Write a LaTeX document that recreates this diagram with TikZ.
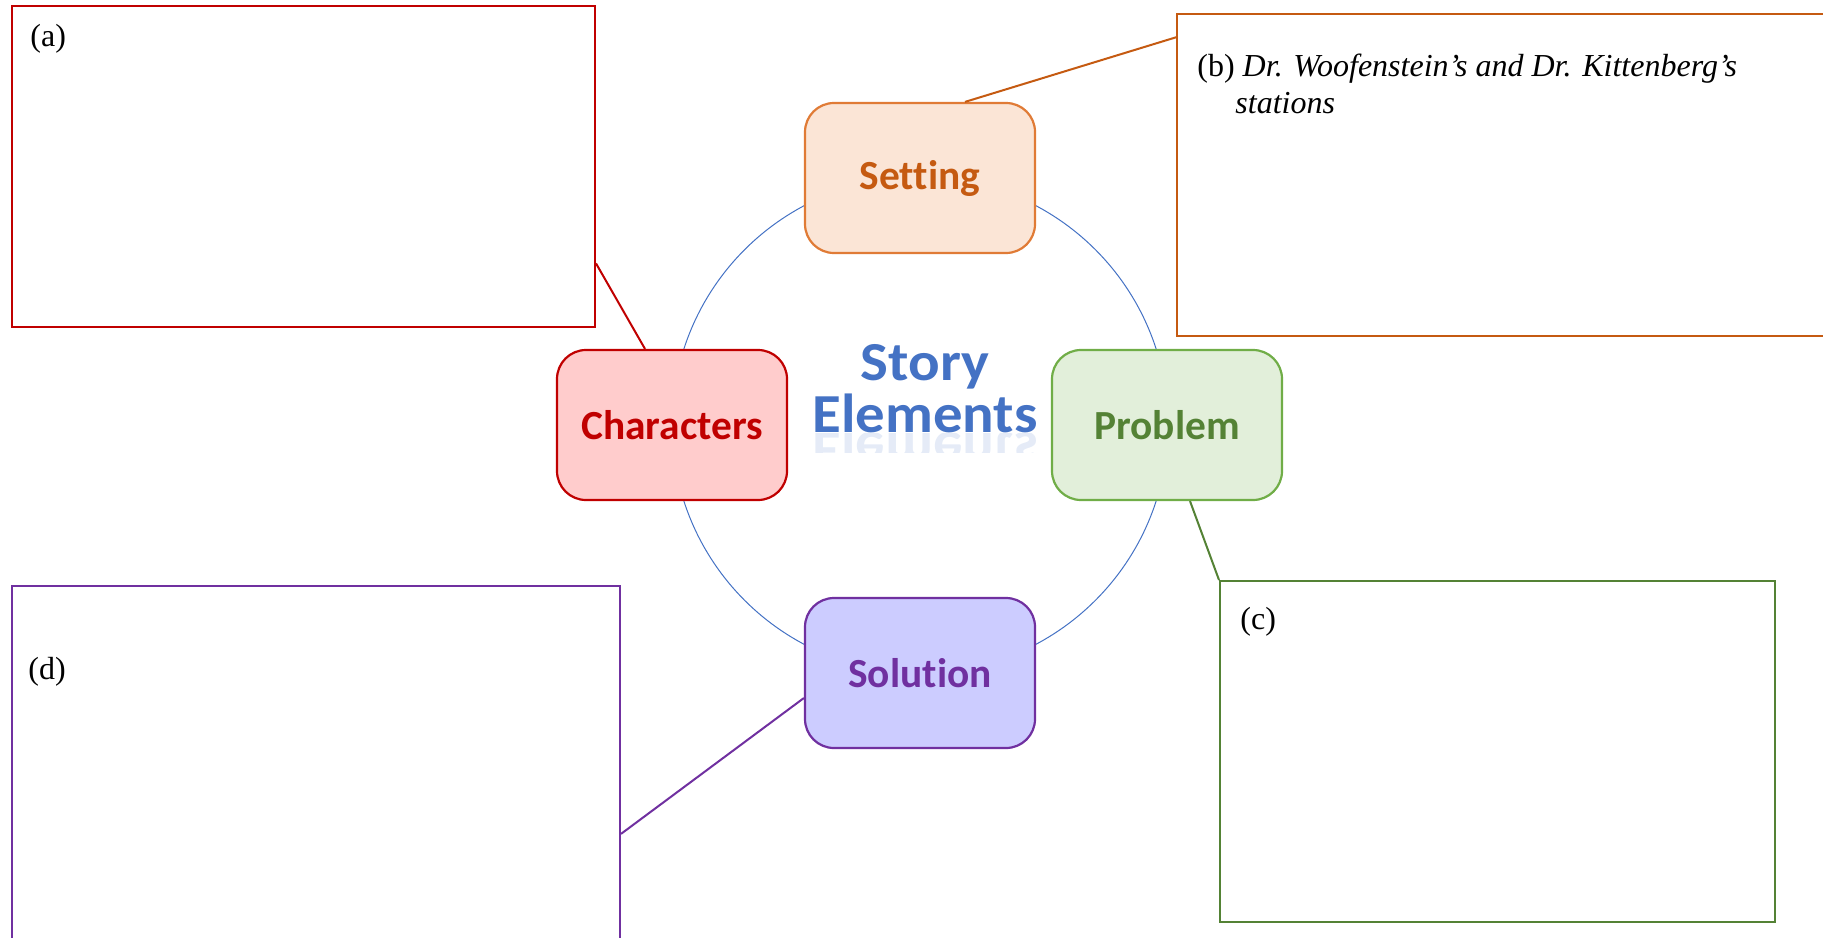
\documentclass[tikz,border=0pt]{standalone}
\usepackage{fontspec}
\setmainfont{Liberation Serif}
\newfontfamily\calibri[Ligatures=NoCommon]{Carlito}
\usepackage{tikz}
\usetikzlibrary{calc}
\definecolor{Lchar}{HTML}{C00000}
\definecolor{Fchar}{HTML}{FFCCCC}
\definecolor{Tchar}{HTML}{C00000}
\definecolor{Lset}{HTML}{E07B36}
\definecolor{Fset}{HTML}{FBE5D6}
\definecolor{Tset}{HTML}{C55A11}
\definecolor{Lprob}{HTML}{70AD47}
\definecolor{Fprob}{HTML}{E2EFDA}
\definecolor{Tprob}{HTML}{548235}
\definecolor{Lsol}{HTML}{7030A0}
\definecolor{Fsol}{HTML}{CCCCFF}
\definecolor{Tsol}{HTML}{7030A0}
\definecolor{storyblue}{HTML}{4472C4}

\begin{document}
\begin{tikzpicture}[x=0.5pt,y=-0.5pt,
		elem/.style={rounded corners=14.5pt, minimum width=115pt, minimum height=75pt,
			line width=1.1pt, font=\calibri\bfseries\fontsize{20.7}{24}\selectfont},
		notebox/.style={draw, line width=1pt, inner sep=0pt},
		tag/.style={anchor=west, inner sep=0pt, font=\fontsize{16}{18}\selectfont},
		big/.style={text=storyblue, inner sep=0pt, anchor=base, xscale=1.07, transform shape, align=center,
			font=\calibri\bfseries\fontsize{27.5}{26}\selectfont}]
			\useasboundingbox (0,0) rectangle (1823,937);
			
			\draw[storyblue, line width=0.5pt] (920,425) circle (248);
			
			% answer boxes
			\node[notebox, Lchar, minimum width=291.5pt, minimum height=160.5pt] (boxa) at (303.5,166.5) {};
			\node[notebox, Tset, minimum width=323.5pt, minimum height=161pt] (boxb) at (1500.5,175) {};
			\node[notebox, Tprob, minimum width=277.5pt, minimum height=170.5pt] (boxc) at (1497.5,751.5) {};
			\node[notebox, Lsol, minimum width=304pt, minimum height=182pt] (boxd) at (316,768) {};
			
			\node[tag] (la) at (30,39) {(a)};
			\node[tag] (lb) at (1197,69) {(b) \textit{Dr. Woofenstein’s and Dr. Kittenberg’s}};
			\node[tag] (lb2) at (1235,103) {\textit{stations}};
			\node[tag] (lc) at (1240,622) {(c)};
			\node[tag] (ld) at (28,672) {(d)};
			
			% the four elements
			\foreach \nm/\x/\y/\txt in {set/920/178/Setting, char/672/425/Characters, prob/1167/425/Problem, sol/920/673/Solution}
			\node[elem, draw=L\nm, fill=F\nm, text=T\nm] (\nm) at (\x,\y) {\txt};
			
			\draw[Lchar, line width=1pt] ($(char.north)+(-27,0)$) -- ($(boxa.north east)!0.8!(boxa.south east)$);
			\draw[Tset, line width=1pt] ($(set.north)+(45,0)$) -- ($(boxb.north west)!0.075!(boxb.south west)$);
			\draw[Tprob, line width=1pt] ($(prob.south)+(23,0)$) -- (boxc.north west);
			\draw[Lsol, line width=1pt] ($(sol.west)+(0,25)$) -- ($(boxd.north east)!0.68!(boxd.south east)$);
			
			% title with its reflection
			\node[big] (story) at (925,432) {Story\\Elements};
			\begin{scope}
			\clip (780,433) rectangle (1070,452);
			\node[big, opacity=0.14, yscale=-1] (mirror) at (925,432) {Elements};
			\end{scope}
		\end{tikzpicture}
\end{document}
